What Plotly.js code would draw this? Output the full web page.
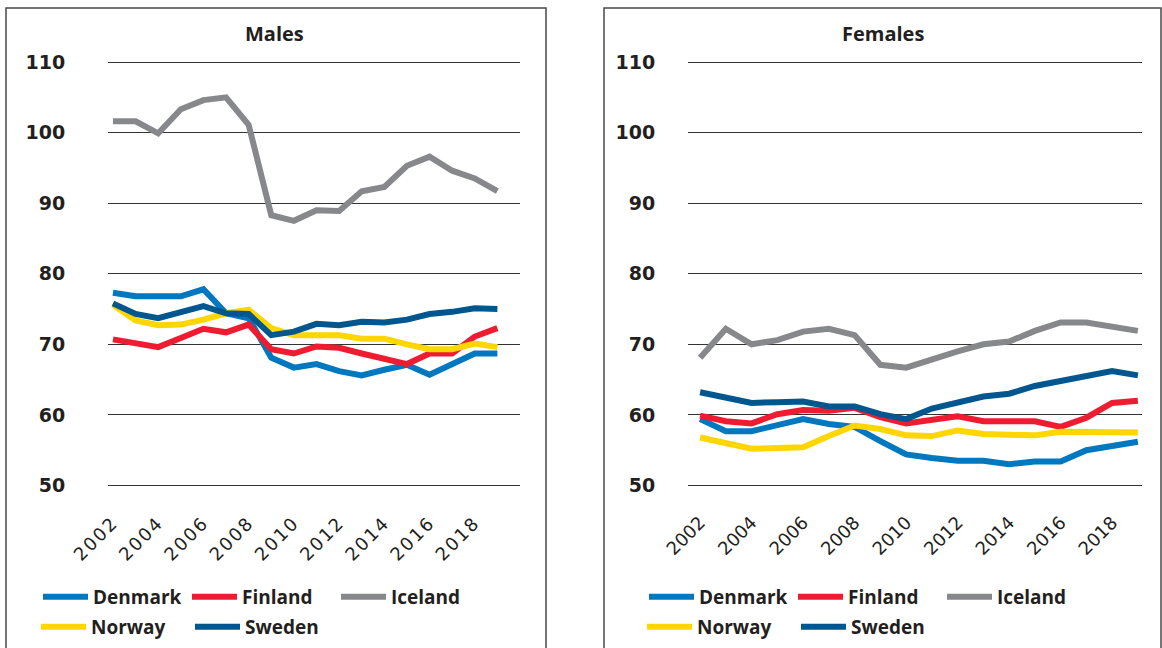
<!DOCTYPE html>
<html>
<head>
<meta charset="utf-8">
<script src="https://cdn.plot.ly/plotly-3.0.1.min.js"></script>
<style>
html,body{margin:0;padding:0;background:#fff;}
#chart{width:1162px;height:648px;}
#chart .xtick text{letter-spacing:2px;}
</style>
</head>
<body>
<div id="chart"></div>
<script>
const years = [2002,2003,2004,2005,2006,2007,2008,2009,2010,2011,2012,2013,2014,2015,2016,2017,2018,2019];
const tickYears = [2002,2004,2006,2008,2010,2012,2014,2016,2018];
const yTicks = [50,60,70,80,90,100,110];

const denmarkMales = [77.3,76.8,76.8,76.8,77.8,74.4,73.7,68.1,66.7,67.2,66.2,65.6,66.4,67.1,65.7,67.3,68.7,68.7];
const finlandMales = [70.7,70.2,69.6,70.9,72.2,71.7,72.8,69.3,68.7,69.7,69.5,68.7,68.0,67.2,68.7,68.7,71.1,72.3];
const icelandMales = [101.6,101.6,99.9,103.3,104.6,105.0,101.1,88.3,87.5,89.0,88.9,91.7,92.3,95.3,96.6,94.6,93.5,91.7];
const norwayMales  = [75.6,73.4,72.7,72.8,73.5,74.4,74.9,72.3,71.3,71.3,71.3,70.8,70.8,70.0,69.3,69.3,70.1,69.6];
const swedenMales  = [75.8,74.3,73.7,74.6,75.4,74.4,74.3,71.3,71.8,72.9,72.7,73.2,73.1,73.5,74.3,74.6,75.1,75.0];

const denmarkFemales = [59.4,57.7,57.7,58.5,59.4,58.7,58.3,56.3,54.4,53.9,53.5,53.5,53.0,53.4,53.4,55.0,55.7,56.2];
const finlandFemales = [59.9,59.1,58.8,60.1,60.7,60.6,61.0,59.7,58.8,59.4,59.8,59.1,59.1,59.1,58.3,59.6,61.7,62.0];
const icelandFemales = [68.1,72.2,70.0,70.6,71.8,72.2,71.3,67.1,66.7,67.9,69.0,70.0,70.4,71.9,73.1,73.1,72.6,71.9];
const norwayFemales  = [56.8,56.0,55.2,55.3,55.4,57.0,58.5,58.0,57.1,57.0,57.8,57.3,57.2,57.1,57.6,57.6,57.4,57.5];
const swedenFemales  = [63.2,62.5,61.7,61.8,61.9,61.2,61.2,60.1,59.4,60.9,61.8,62.6,63.0,64.1,64.8,65.5,66.2,65.6];

const countries = ['Denmark','Finland','Iceland','Norway','Sweden'];
const colors = ['#0078BF','#EE1C31','#87888B','#FFD600','#00568F'];
const males = [denmarkMales, finlandMales, icelandMales, norwayMales, swedenMales];
const females = [denmarkFemales, finlandFemales, icelandFemales, norwayFemales, swedenFemales];

const traces = [];
countries.forEach((c,i)=>{
  traces.push({x:years, y:males[i], name:c, type:'scatter', mode:'lines',
    line:{color:colors[i], width:6}, xaxis:'x', yaxis:'y',
    legend: i<3 ? 'legend' : 'legend2'});
});
countries.forEach((c,i)=>{
  traces.push({x:years, y:females[i], name:c, type:'scatter', mode:'lines',
    line:{color:colors[i], width:6}, xaxis:'x2', yaxis:'y2',
    legend: i<3 ? 'legend3' : 'legend4'});
});

const W = 1162, H = 648;
const px = v => v/W;
const py = v => 1 - v/H;
const SANS = '"Open Sans", sans-serif';
const WIDE = '"DejaVu Sans", sans-serif';
const dark = '#231F20';

const xBase = {
  tickvals: tickYears, ticktext: tickYears.map(String), tickangle: -45,
  showgrid:false, zeroline:false, showline:false,
  ticks:'outside', ticklen:15, tickcolor:'rgba(0,0,0,0)',
  tickfont:{family:WIDE, size:18, color:dark}, fixedrange:true
};
const yBase = {
  range:[49.5,110.5], tickvals:yTicks, ticktext: yTicks.map(String),
  showgrid:true, gridcolor:'#333333', gridwidth:1, zeroline:false, showline:false,
  ticks:'outside', tickcolor:'rgba(0,0,0,0)',
  tickfont:{family:WIDE, size:19, color:dark, weight:'bold'}, fixedrange:true
};

const legBase = {
  orientation:'h', xanchor:'left', yanchor:'middle',
  font:{family:SANS, size:19, color:dark, weight:'bold'},
  bgcolor:'rgba(0,0,0,0)', entrywidthmode:'pixels', itemwidth:45,
  itemclick:false, itemdoubleclick:false, tracegroupgap:0
};

const layout = {
  width:W, height:H, margin:{l:0,r:0,t:0,b:0},
  paper_bgcolor:'#fff', plot_bgcolor:'#fff', showlegend:true,
  xaxis: Object.assign({}, xBase, {domain:[px(108), px(520)], range:[2001.78, 2020.0], anchor:'y'}),
  yaxis: Object.assign({}, yBase, {domain:[py(489.0), py(58.5)], ticklen:38, anchor:'x'}),
  xaxis2: Object.assign({}, xBase, {domain:[px(688), px(1142)], range:[2001.53, 2019.16], anchor:'y2'}),
  yaxis2: Object.assign({}, yBase, {domain:[py(489.0), py(58.5)], ticklen:28, anchor:'x2'}),
  legend:  Object.assign({}, legBase, {x:px(38), y:py(597), entrywidth:89}),
  legend2: Object.assign({}, legBase, {x:px(36), y:py(627), entrywidth:94}),
  legend3: Object.assign({}, legBase, {x:px(644), y:py(597), entrywidth:89}),
  legend4: Object.assign({}, legBase, {x:px(642), y:py(627), entrywidth:94}),
  annotations:[
    {text:'<b>Males</b>', x:px(274), y:py(33), xref:'paper', yref:'paper', showarrow:false,
     font:{family:SANS, size:20, color:dark}, xanchor:'center', yanchor:'middle'},
    {text:'<b>Females</b>', x:px(883), y:py(33), xref:'paper', yref:'paper', showarrow:false,
     font:{family:SANS, size:20, color:dark}, xanchor:'center', yanchor:'middle'}
  ],
  shapes:[
    {type:'path', xref:'paper', yref:'paper',
     path:`M ${px(6)} 0 L ${px(6)} ${py(8)} L ${px(546)} ${py(8)} L ${px(546)} 0`,
     line:{color:'#4a4a4a', width:1.5}},
    {type:'path', xref:'paper', yref:'paper',
     path:`M ${px(604)} 0 L ${px(604)} ${py(8)} L ${px(1161)} ${py(8)} L ${px(1161)} 0`,
     line:{color:'#4a4a4a', width:1.5}}
  ]
};

Plotly.newPlot('chart', traces, layout, {displayModeBar:false, responsive:false});
</script>
</body>
</html>
